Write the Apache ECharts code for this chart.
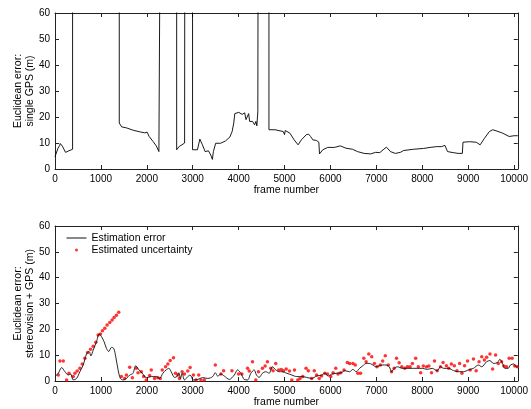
<!DOCTYPE html>
<html>
<head>
<meta charset="utf-8">
<script src="https://cdn.jsdelivr.net/npm/echarts@6/dist/echarts.min.js"></script>
<style>
  html, body { margin: 0; padding: 0; background: #fff; }
  #chart { width: 531px; height: 409px; }
</style>
</head>
<body>
<div id="chart"></div>
<script>
// top panel: single GPS error (100 = off the scale, line leaves the plot)
var gpsFrames = [0, 15, 65, 101, 115, 160, 230, 302, 338, 383, 383,
  1400, 1400, 1451, 1560, 1703, 1847, 1955, 2006, 2048, 2134, 2206, 2263, 2292, 2292,
  2650, 2650, 2708, 2765, 2794, 2823, 2828,
  2996, 2996, 3032, 3103, 3155, 3211, 3271, 3343, 3392, 3428, 3450, 3500, 3607, 3715, 3809, 3858,
  3894, 3916, 4003, 4075, 4132, 4160, 4218, 4239, 4304, 4347, 4376, 4397, 4418, 4425,
  4660, 4660, 4793, 4972, 5000, 5015, 5116, 5209, 5295, 5366, 5474, 5524, 5567, 5596, 5617,
  5690, 5747, 5762, 5833, 5941, 6085, 6215, 6336, 6480, 6588, 6733, 6875, 6983, 7075, 7104,
  7147, 7220, 7306, 7414, 7522, 7594, 7810, 8026, 8170, 8313, 8350, 8420, 8493, 8528, 8550,
  8672, 8780, 8873, 8887, 9030, 9174, 9261, 9354, 9461, 9534, 9606, 9749, 9893, 10000, 10080];
var gpsError = [4.7, 4.8, 8.0, 9.0, 9.8, 8.8, 6.4, 7.0, 7.6, 7.6, 100,
  100, 17.7, 16.2, 15.8, 14.9, 14.3, 13.9, 14.2, 12.6, 10.6, 8.9, 6.7, 6.2, 100,
  100, 7.4, 8.7, 9.3, 8.7, 10, 100,
  100, 7.4, 8.0, 7.4, 11.5, 9.3, 6.7, 7.0, 5.4, 3.7, 6.7, 9.9, 9.9, 10.8, 12.3, 14.4,
  17.7, 21.3, 21.8, 21.0, 21.6, 19.0, 21.3, 18.3, 18.3, 17.0, 18.3, 16.6, 22, 100,
  100, 15.1, 15.1, 14.4, 13.2, 14.8, 13.8, 11.2, 9.3, 11.2, 13.2, 13.4, 12.5, 12.8, 11.2,
  11.0, 10.3, 5.8, 7.4, 8.3, 8.3, 8.9, 8.0, 7.6, 6.7, 6.0, 5.8, 6.4, 6.3, 5.8,
  7.4, 8.4, 6.7, 6.0, 6.4, 7.1, 7.6, 7.9, 8.3, 8.6, 7.9, 8.6, 9.1, 9.1, 6.7,
  6.3, 6.0, 6.0, 10.3, 10.5, 10.3, 9.3, 11.8, 14.4, 15.1, 14.7, 13.8, 12.5, 12.8, 12.8];

// bottom panel: stereovision + GPS estimation error
var fusedFrames = [0, 72, 145, 217, 289, 340, 398, 470, 542, 615, 687, 745, 781, 832, 904, 962,
  1012, 1070, 1121, 1171, 1229, 1280, 1323, 1374, 1424, 1482, 1555, 1627, 1699, 1757, 1829,
  1902, 1988, 2097, 2205, 2278, 2350, 2422, 2480, 2531, 2603, 2654, 2697, 2733, 2769, 2820,
  2892, 2943, 3015, 3109, 3218, 3326, 3435, 3492, 3543, 3615, 3688, 3796, 3905, 3977, 4049,
  4121, 4194, 4266, 4338, 4389, 4447, 4519, 4591, 4664, 4736, 4808, 4881, 4942, 5050, 5158,
  5266, 5374, 5482, 5590, 5698, 5806, 5878, 5950, 6022, 6129, 6237, 6309, 6417, 6489, 6561,
  6633, 6705, 6777, 6849, 6921, 6993, 7065, 7137, 7209, 7281, 7331, 7388, 7460, 7568, 7676,
  7784, 7892, 8000, 8108, 8216, 8324, 8396, 8468, 8576, 8683, 8791, 8899, 9007, 9115, 9223,
  9295, 9403, 9475, 9547, 9633, 9691, 9748, 9799, 9871, 9921, 9993, 10050, 10080];
var fusedError = [1.7, 3.0, 5.2, 3.6, 2.3, 2.7, 0.4, 1.0, 3.6, 6.2, 10.5, 11.4, 9.7, 12.0, 15.2, 18.2,
  17.2, 15.2, 12.6, 11.4, 13.0, 12.6, 9.4, 4.3, 1.0, 0.4, 1.0, 2.3, 3.0, 5.9, 4.3,
  3.0, 1.3, 1.7, 1.7, 1.0, 3.0, 4.3, 4.9, 3.6, 1.4, 1.7, 3.2, 1.0, 3.0, 0.4,
  1.7, 2.3, 0.4, 0.6, 1.3, 1.0, 1.7, 3.2, 1.9, 2.7, 1.9, 0.6, 2.3, 4.3, 3.0,
  0.6, 0.4, 3.0, 4.3, 2.3, 1.4, 3.0, 3.6, 3.0, 5.5, 4.3, 3.6, 3.6, 3.0, 2.3,
  1.7, 1.7, 1.4, 1.0, 1.9, 2.3, 3.0, 1.9, 2.6, 3.0, 3.2, 4.0, 3.6, 4.5, 3.6,
  4.9, 5.9, 6.8, 6.8, 6.2, 5.5, 5.9, 6.2, 6.2, 5.5, 3.6, 4.9, 5.5, 4.9, 4.9,
  4.9, 4.9, 4.9, 4.5, 4.9, 4.0, 5.5, 4.9, 4.9, 4.0, 3.6, 3.6, 4.3, 4.9, 6.2,
  5.5, 7.5, 7.9, 6.8, 7.1, 8.4, 6.8, 4.9, 4.9, 6.2, 6.6, 5.5, 5.5];

// bottom panel: estimated uncertainty (red dots)
var uncFrames = [72, 108, 181, 253, 304, 398, 434, 484, 542, 593, 651, 709, 774, 832, 889, 940,
  991, 1034, 1085, 1135, 1193, 1244, 1287, 1338, 1388, 1446, 1518, 1555, 1627, 1685, 1771,
  1808, 1880, 1931, 1988, 2061, 2097, 2169, 2241, 2292, 2336, 2408, 2458, 2509, 2581, 2625,
  2675, 2711, 2769, 2820, 2892, 2943, 3015, 3073, 3131, 3181, 3253, 3492, 3615, 3673, 3854,
  3999, 4071, 4194, 4230, 4302, 4374, 4432, 4519, 4577, 4627, 4700, 4750, 4808, 4871, 4928,
  4978, 5036, 5108, 5158, 5216, 5288, 5338, 5396, 5468, 5518, 5590, 5647, 5698, 5755, 5806,
  5878, 5935, 6007, 6058, 6115, 6165, 6223, 6295, 6367, 6417, 6489, 6540, 6597, 6655, 6727,
  6777, 6835, 6899, 6957, 7014, 7086, 7137, 7194, 7259, 7331, 7388, 7439, 7496, 7554, 7619,
  7676, 7734, 7784, 7856, 7914, 7964, 8022, 8094, 8144, 8201, 8266, 8324, 8396, 8453, 8525,
  8576, 8633, 8698, 8755, 8813, 8863, 8921, 8986, 9043, 9115, 9173, 9237, 9295, 9353, 9403,
  9475, 9532, 9597, 9655, 9727, 9777, 9835, 9892, 9957, 10014, 10072];
var uncValues = [2.3, 7.7, 7.7, 0.4, 3.0, 1.7, 3.0, 3.9, 4.9, 6.6, 8.8, 11.0, 12.3, 13.5, 15.0, 17.8,
  18.2, 19.5, 20.4, 21.7, 22.6, 23.6, 24.6, 25.5, 26.6, 1.7, 1.0, 2.3, 5.3, 1.3, 4.9,
  3.2, 3.6, 1.7, 0.4, 2.1, 4.3, 1.0, 1.3, 1.0, 4.3, 5.5, 6.6, 7.9, 9.0, 3.0,
  2.3, 1.0, 3.6, 2.7, 3.9, 5.2, 2.3, 0.4, 2.3, 0.4, 0.4, 6.2, 2.7, 4.0, 4.0,
  2.7, 2.7, 4.9, 3.9, 7.5, 0.4, 3.6, 4.9, 5.8, 7.5, 4.9, 4.0, 6.8, 4.3, 4.5,
  4.0, 4.6, 3.9, 0.4, 4.3, 0.4, 1.0, 1.7, 4.9, 4.0, 1.0, 4.0, 2.3, 1.0, 1.9,
  3.0, 2.7, 1.7, 3.2, 4.9, 2.7, 3.2, 4.3, 7.2, 6.8, 6.8, 6.2, 3.0, 3.0, 8.8,
  7.5, 10.5, 9.4, 6.8, 5.5, 6.2, 7.7, 9.8, 6.2, 3.6, 4.9, 8.8, 7.1, 5.5, 4.9,
  5.5, 5.5, 6.8, 8.8, 5.5, 3.2, 5.8, 5.5, 5.8, 3.2, 7.7, 4.0, 5.5, 7.2, 5.9,
  4.9, 6.6, 5.9, 4.0, 6.8, 3.0, 5.9, 7.7, 4.3, 8.5, 4.0, 7.5, 9.4, 8.1, 9.2,
  10.5, 4.6, 10.1, 6.8, 7.5, 5.8, 5.5, 8.8, 8.8, 5.8, 5.5];

var xTicks = [0, 1000, 2000, 3000, 4000, 5000, 6000, 7000, 8000, 9000, 10000];
var yTicks = [0, 10, 20, 30, 40, 50, 60];

function zip(xs, ys) {
  return xs.map(function (x, i) { return [x, ys[i]]; });
}

var font = 'Liberation Sans, Arial, Helvetica, sans-serif';
var axisColor = '#222';
var xMax = 10080;

function xAxisFor(gridIndex, top) {
  return {
    type: 'value', gridIndex: gridIndex, position: top ? 'top' : 'bottom',
    min: xTicks[0], max: xMax, interval: xTicks[1] - xTicks[0],
    name: top ? '' : 'frame number', nameLocation: 'middle', nameGap: 16,
    nameMoveOverlap: false,
    nameTextStyle: { fontFamily: font, fontSize: 10.5, color: '#000' },
    axisLine: { show: true, onZero: false, lineStyle: { color: axisColor, width: 1 } },
    axisTick: { show: true, inside: true, length: 4, lineStyle: { color: axisColor } },
    axisLabel: { show: !top, fontFamily: font, fontSize: 10, color: '#000', margin: 5,
      showMaxLabel: false, hideOverlap: false,
      formatter: function (v) { return String(v); } },
    splitLine: { show: false }
  };
}

function yAxisFor(gridIndex, right, name) {
  return {
    type: 'value', gridIndex: gridIndex, position: right ? 'right' : 'left',
    min: yTicks[0], max: yTicks[yTicks.length - 1], interval: yTicks[1] - yTicks[0],
    name: right ? '' : name, nameLocation: 'middle', nameGap: 19,
    nameMoveOverlap: false,
    nameTextStyle: { fontFamily: font, fontSize: 10.5, color: '#000', lineHeight: 12, align: 'center' },
    axisLine: { show: true, onZero: false, lineStyle: { color: axisColor, width: 1 } },
    axisTick: { show: true, inside: true, length: 4, lineStyle: { color: axisColor } },
    axisLabel: { show: !right, fontFamily: font, fontSize: 10, color: '#000', margin: 5 },
    splitLine: { show: false }
  };
}

var chart = echarts.init(document.getElementById('chart'));
chart.setOption({
  animation: false,
  backgroundColor: '#fff',
  grid: [
    { left: 55, right: 9, top: 13, height: 156 },
    { left: 55, right: 9, top: 226, height: 155 }
  ],
  legend: {
    left: 66, top: 232, padding: 0, orient: 'vertical', itemWidth: 20, itemHeight: 3, itemGap: 0,
    textStyle: { fontFamily: font, fontSize: 10.5, color: '#000', lineHeight: 12 },
    data: [
      { name: 'Estimation error', lineStyle: { color: '#111', width: 1 },
        itemStyle: { color: 'rgba(0,0,0,0)', borderWidth: 0, opacity: 0 } },
      { name: 'Estimated uncertainty', icon: 'circle' }
    ]
  },
  xAxis: [xAxisFor(0, false), xAxisFor(0, true), xAxisFor(1, false), xAxisFor(1, true)],
  yAxis: [
    yAxisFor(0, false, 'Euclidean error:\nsingle GPS (m)'),
    yAxisFor(0, true, ''),
    yAxisFor(1, false, 'Euclidean error:\nstereovision + GPS (m)'),
    yAxisFor(1, true, '')
  ],
  series: [
    {
      name: 'single GPS', type: 'line', xAxisIndex: 0, yAxisIndex: 0,
      data: zip(gpsFrames, gpsError), symbol: 'none', showSymbol: false,
      lineStyle: { color: '#000', width: 0.9 }, clip: true
    },
    {
      name: 'Estimation error', type: 'line', xAxisIndex: 2, yAxisIndex: 2,
      data: zip(fusedFrames, fusedError), symbol: 'none', showSymbol: false, smooth: 0.3,
      lineStyle: { color: '#111', width: 0.9 }, itemStyle: { color: '#111' }, clip: true
    },
    {
      name: 'Estimated uncertainty', type: 'scatter', xAxisIndex: 2, yAxisIndex: 2,
      data: zip(uncFrames, uncValues), symbol: 'circle', symbolSize: 3.5,
      itemStyle: { color: '#ff0000' }
    }
  ]
});
</script>
</body>
</html>
